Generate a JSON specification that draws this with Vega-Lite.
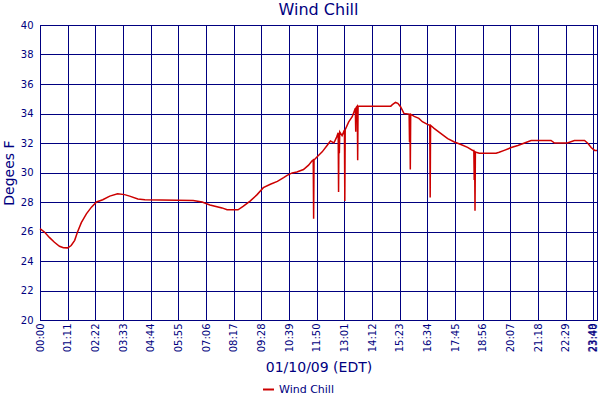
{
  "$schema": "https://vega.github.io/schema/vega-lite/v6.json",
  "width": 557,
  "height": 295,
  "autosize": "none",
  "padding": {"left": 40, "top": 25, "right": 3, "bottom": 80},
  "background": "white",
  "title": {"text": "Wind Chill", "font": "DejaVu Sans", "fontSize": 16, "fontWeight": "normal", "color": "#000080", "offset": 2},
  "config": {
    "view": {"stroke": "#000080", "strokeWidth": 1},
    "axis": {
      "domainColor": "#000080", "gridColor": "#000080", "gridOpacity": 1, "gridWidth": 1,
      "ticks": false, "labelColor": "#000080", "labelFont": "DejaVu Sans", "labelFontSize": 10,
      "titleColor": "#000080", "titleFont": "DejaVu Sans", "titleFontSize": 14, "titleFontWeight": "normal"
    }
  },
  "data": {"values": [
    {"m":0,"v":26.2},{"m":12,"v":25.95},{"m":24,"v":25.6},{"m":37,"v":25.27},{"m":50,"v":25.0},{"m":60,"v":24.9},{"m":71,"v":24.89},{"m":80,"v":25.05},{"m":89,"v":25.4},{"m":96,"v":25.95},{"m":106,"v":26.6},{"m":119,"v":27.2},{"m":132,"v":27.65},{"m":145,"v":28.0},{"m":161,"v":28.15},{"m":179,"v":28.4},{"m":199,"v":28.56},{"m":217,"v":28.5},{"m":230,"v":28.4},{"m":251,"v":28.2},{"m":269,"v":28.15},{"m":393,"v":28.1},{"m":416,"v":28.0},{"m":436,"v":27.8},{"m":467,"v":27.6},{"m":480,"v":27.47},{"m":508,"v":27.47},{"m":521,"v":27.7},{"m":539,"v":28.06},{"m":557,"v":28.5},{"m":573,"v":28.97},{"m":591,"v":29.2},{"m":609,"v":29.4},{"m":625,"v":29.65},{"m":634,"v":29.8},{"m":647,"v":29.97},{"m":659,"v":30.03},{"m":676,"v":30.2},{"m":689,"v":30.5},{"m":698,"v":30.8},{"m":701,"v":30.85},{"m":702,"v":26.86},{"m":703,"v":30.85},{"m":715,"v":31.17},{"m":724,"v":31.4},{"m":737,"v":31.85},{"m":745,"v":32.14},{"m":754,"v":32.0},{"m":761,"v":32.4},{"m":765,"v":32.7},{"m":766,"v":28.67},{"m":767,"v":32.7},{"m":768,"v":31.3},{"m":769,"v":32.75},{"m":775,"v":32.5},{"m":781,"v":32.87},{"m":782,"v":28.06},{"m":783,"v":32.9},{"m":792,"v":33.43},{"m":801,"v":33.78},{"m":809,"v":34.35},{"m":810,"v":32.76},{"m":811,"v":34.4},{"m":814,"v":34.5},{"m":815,"v":30.83},{"m":816,"v":34.5},{"m":900,"v":34.5},{"m":904,"v":34.6},{"m":912,"v":34.75},{"m":918,"v":34.69},{"m":925,"v":34.46},{"m":934,"v":34.0},{"m":947,"v":33.96},{"m":948,"v":32.07},{"m":949,"v":33.95},{"m":950,"v":30.2},{"m":951,"v":33.95},{"m":960,"v":33.8},{"m":972,"v":33.67},{"m":981,"v":33.44},{"m":994,"v":33.26},{"m":1000,"v":33.2},{"m":1001,"v":28.3},{"m":1002,"v":33.2},{"m":1011,"v":32.99},{"m":1028,"v":32.65},{"m":1046,"v":32.3},{"m":1063,"v":32.07},{"m":1080,"v":31.9},{"m":1097,"v":31.7},{"m":1110,"v":31.5},{"m":1113,"v":31.5},{"m":1114,"v":29.5},{"m":1115,"v":31.45},{"m":1116,"v":27.4},{"m":1117,"v":31.4},{"m":1121,"v":31.35},{"m":1127,"v":31.3},{"m":1170,"v":31.3},{"m":1178,"v":31.37},{"m":1191,"v":31.5},{"m":1209,"v":31.69},{"m":1226,"v":31.83},{"m":1243,"v":32.0},{"m":1260,"v":32.17},{"m":1311,"v":32.17},{"m":1320,"v":32.0},{"m":1353,"v":32.0},{"m":1371,"v":32.17},{"m":1397,"v":32.17},{"m":1406,"v":31.97},{"m":1414,"v":31.69},{"m":1423,"v":31.5},{"m":1429,"v":31.5}
  ]},
  "mark": {"type": "line", "strokeWidth": 1.5, "interpolate": "linear"},
  "encoding": {
    "x": {
      "field": "m", "type": "quantitative",
      "scale": {"domain": [0, 1429], "nice": false, "zero": false},
      "axis": {
        "values": [0,71,142,213,284,355,426,497,568,639,710,781,852,923,994,1065,1136,1207,1278,1349,1420,1429],
        "labelExpr": "utcFormat(datum.value * 60000, '%H:%M')",
        "labelAngle": 270, "labelOverlap": false, "labelBound": false, "labelFlush": false,
        "labelBaseline": {"expr": "datum.value == 1429 ? 'bottom' : 'middle'"},
        "labelPadding": 3, "title": "01/10/09 (EDT)", "titlePadding": 9
      }
    },
    "y": {
      "field": "v", "type": "quantitative",
      "scale": {"domain": [20, 40], "nice": false, "zero": false},
      "axis": {"values": [20,22,24,26,28,30,32,34,36,38,40], "labelPadding": 7, "title": "Degees F", "titlePadding": 4}
    },
    "color": {
      "datum": "Wind Chill", "type": "nominal",
      "scale": {"range": ["#CC0000"]},
      "legend": {
        "orient": "none", "legendX": 222, "legendY": 358, "title": null,
        "labelFont": "DejaVu Sans", "labelFontSize": 11, "labelColor": "#000080",
        "symbolType": "stroke", "symbolStrokeWidth": 2, "symbolSize": 120
      }
    }
  }
}
